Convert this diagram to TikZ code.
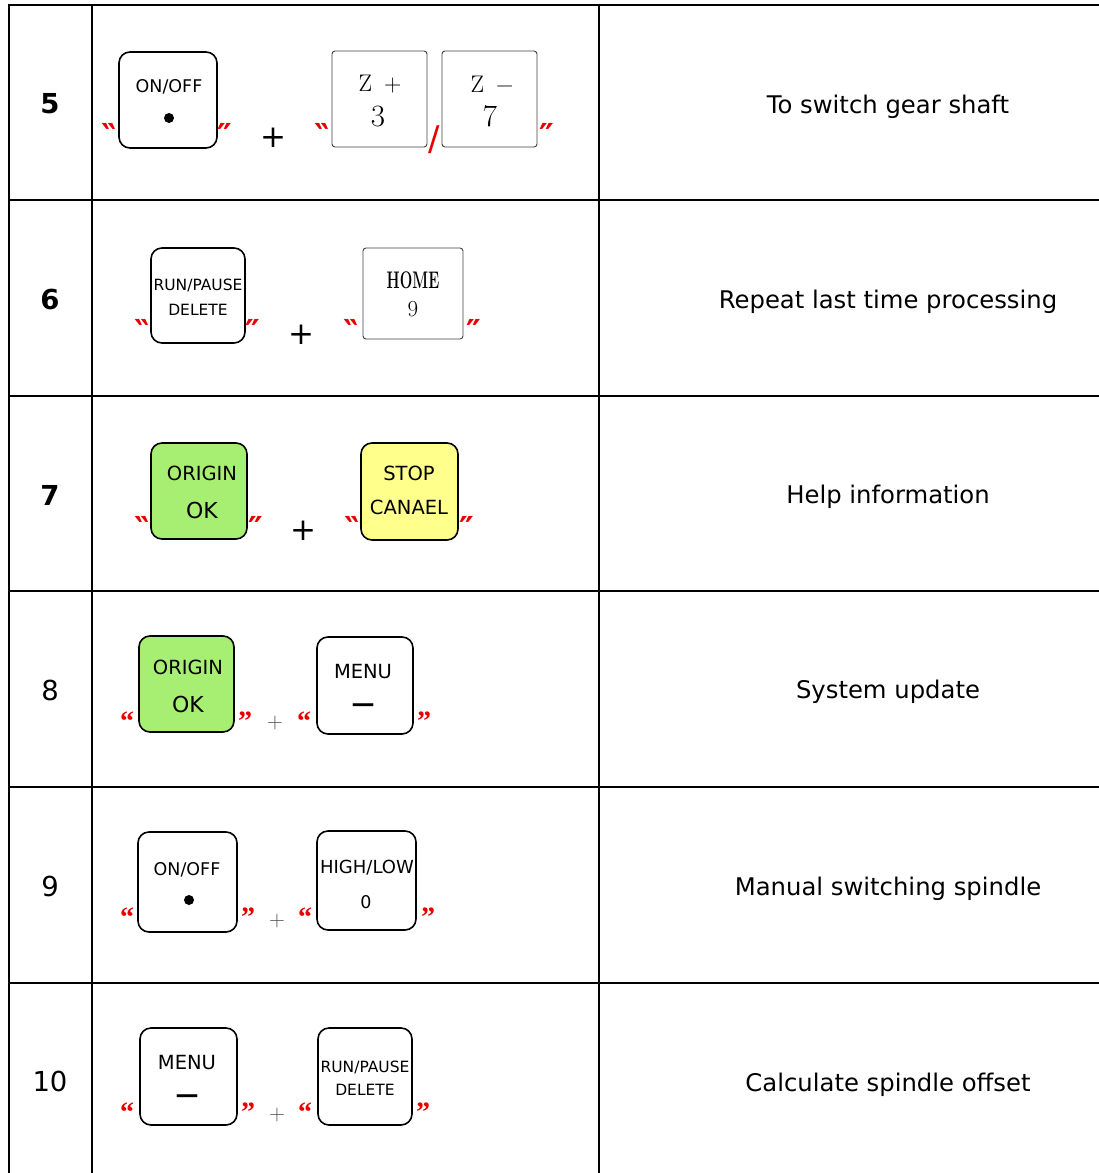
\documentclass[tikz,border=0pt]{standalone}
\usepackage{fontspec}
\setsansfont{DejaVu Sans}
\newfontfamily\quoteserif{Liberation Serif}
\definecolor{keygreen}{RGB}{166,239,114}
\definecolor{keyyellow}{RGB}{255,255,140}
\definecolor{quotered}{RGB}{230,0,0}
\tikzset{
  grid/.style={line width=2.4},
  keycap/.style={draw, line width=1.6, rounded corners=11, inner sep=0},
  flatcap/.style={draw=black!75, line width=0.9, rounded corners=3, inner sep=0},
  sans/.style={inner sep=0, font=\sffamily\fontsize{#1}{#1}\selectfont},
  serif/.style={inner sep=0, font=\rmfamily\fontsize{#1}{#1}\selectfont},
  squote/.style={inner sep=0, anchor=north, text=quotered, font=\sffamily\bfseries\fontsize{33}{33}\selectfont},
  cquote/.style={inner sep=0, anchor=north, text=quotered, font=\quoteserif\bfseries\fontsize{28}{28}\selectfont},
  boldplus/.style={inner sep=0, font=\sffamily\fontsize{31}{31}\selectfont},
  thinplus/.style={inner sep=0, text=black!70, font=\rmfamily\fontsize{22}{22}\selectfont},
  rownum/.style={inner sep=0, font=\sffamily\fontsize{27.5}{27.5}\selectfont},
  desc/.style={inner sep=0, font=\sffamily\fontsize{24.3}{24.3}\selectfont},
  dot/.style={circle, fill, inner sep=0, minimum size=10}
}
\begin{document}
\begin{tikzpicture}[x=1pt,y=-1pt]
    \useasboundingbox (0,0) rectangle (1099,1173);
    % table
    \coordinate (TL) at (9,5);
    \coordinate (TR) at (1099,5);
    \draw[grid] (TL) -- (TR);
    \foreach \y in {200,396,591,787,983}
        \draw[grid] (9,\y) -- (1099,\y);
    \foreach \x in {9,92,599}
        \draw[grid] (\x,4) -- (\x,1173);

    % row 5
    \node[rownum, font=\sffamily\bfseries\fontsize{27.5}{27.5}\selectfont] (n5) at (50,104) {5};
    \node[keycap, minimum width=98, minimum height=96] (k5a) at (168,100) {};
    \node[sans=17.5] (t5a) at (169,87) {ON/OFF};
    \node[dot] (d5a) at (169,118) {};
    \node[squote] (q5a) at (109,123) {‶};
    \node[squote] (q5b) at (225,123) {″};
    \node[boldplus] (p5) at (273,138) {+};
    \node[squote] (q5c) at (322,123) {‶};
    \node[flatcap, minimum width=95, minimum height=96] (k5b) at (379.5,99) {};
    \node[serif=24] (t5b) at (380,84) {Z\enspace+};
    \node[serif=31] (u5b) at (378,116) {3};
    \node[inner sep=0, anchor=base, text=quotered, font=\sffamily\fontsize{34}{34}\selectfont] (s5) at (434,150) {/};
    \node[flatcap, minimum width=95, minimum height=96] (k5c) at (489.5,99) {};
    \node[serif=24] (t5c) at (492,84) {Z\enspace−};
    \node[serif=31] (u5c) at (490,116) {7};
    \node[squote] (q5d) at (547,123) {″};
    \node[desc] (e5) at (888,107) {To switch gear shaft};

    % row 6
    \node[rownum, font=\sffamily\bfseries\fontsize{27.5}{27.5}\selectfont] (n6) at (50,299) {6};
    \node[keycap, minimum width=94, minimum height=95] (k6a) at (198,295.5) {};
    \node[sans=15.5] (t6a) at (198,285) {RUN/PAUSE};
    \node[sans=15.5] (u6a) at (198,310) {DELETE};
    \node[squote] (q6a) at (142,319) {‶};
    \node[squote] (q6b) at (253,319) {″};
    \node[boldplus] (p6) at (301,335) {+};
    \node[squote] (q6c) at (351,319) {‶};
    \node[flatcap, minimum width=100, minimum height=91] (k6b) at (413,293.5) {};
    \node[serif=24] (t6b) at (413,280) {\bfseries\scalebox{0.62}[1]{HOME}};
    \node[serif=23] (u6b) at (413,309) {9};
    \node[squote] (q6d) at (474,319) {″};
    \node[desc] (e6) at (888,302) {Repeat last time processing};

    % row 7
    \node[rownum, font=\sffamily\bfseries\fontsize{27.5}{27.5}\selectfont] (n7) at (50,495) {7};
    \node[keycap, fill=keygreen, minimum width=96, minimum height=96] (k7a) at (199,491) {};
    \node[sans=19.5] (t7a) at (202,473) {ORIGIN};
    \node[sans=22] (u7a) at (202,510) {OK};
    \node[squote] (q7a) at (142,516) {‶};
    \node[squote] (q7b) at (256,516) {″};
    \node[boldplus] (p7) at (303,531) {+};
    \node[squote] (q7c) at (352,516) {‶};
    \node[keycap, fill=keyyellow, minimum width=97, minimum height=97] (k7b) at (409.5,491.5) {};
    \node[sans=19.5] (t7b) at (409,473) {STOP};
    \node[sans=19.5] (u7b) at (409,507) {CANAEL};
    \node[squote] (q7d) at (467,516) {″};
    \node[desc] (e7) at (888,497) {Help information};

    % row 8
    \node[rownum] (n8) at (50,690) {8};
    \node[keycap, fill=keygreen, minimum width=95, minimum height=96] (k8a) at (186.5,684) {};
    \node[sans=19.5] (t8a) at (188,667) {ORIGIN};
    \node[sans=22] (u8a) at (188,704) {OK};
    \node[cquote] (q8a) at (127,712) {“};
    \node[cquote] (q8b) at (245,712) {”};
    \node[thinplus] (p8) at (275,723) {+};
    \node[cquote] (q8c) at (304,712) {“};
    \node[keycap, minimum width=96, minimum height=97] (k8b) at (365,685.5) {};
    \node[sans=19.5] (t8b) at (363,672) {MENU};
    \node[sans=23, anchor=north] (u8b) at (363,704) {\bfseries —};
    \node[cquote] (q8d) at (424,712) {”};
    \node[desc] (e8) at (888,692) {System update};

    % row 9
    \node[rownum] (n9) at (50,886) {9};
    \node[keycap, minimum width=99, minimum height=100] (k9a) at (187.5,882) {};
    \node[sans=17.5] (t9a) at (187,870) {ON/OFF};
    \node[dot] (d9a) at (189,900) {};
    \node[cquote] (q9a) at (127,908) {“};
    \node[cquote] (q9b) at (248,908) {”};
    \node[thinplus] (p9) at (277,921) {+};
    \node[cquote] (q9c) at (305,908) {“};
    \node[keycap, minimum width=99, minimum height=99] (k9b) at (366.5,880.5) {};
    \node[sans=18] (t9b) at (367,868) {HIGH/LOW};
    \node[sans=17.5] (u9b) at (366,902) {0};
    \node[cquote] (q9d) at (428,908) {”};
    \node[desc] (e9) at (888,889) {Manual switching spindle};

    % row 10
    \node[rownum] (n10) at (50,1081) {10};
    \node[keycap, minimum width=97, minimum height=97] (k10a) at (188.5,1076.5) {};
    \node[sans=19.5] (t10a) at (187,1063) {MENU};
    \node[sans=23, anchor=north] (u10a) at (187,1095) {\bfseries —};
    \node[cquote] (q10a) at (127,1103) {“};
    \node[cquote] (q10b) at (248,1103) {”};
    \node[thinplus] (p10) at (277,1115) {+};
    \node[cquote] (q10c) at (305,1103) {“};
    \node[keycap, minimum width=94, minimum height=97] (k10b) at (365,1076.5) {};
    \node[sans=15.5] (t10b) at (365,1067) {RUN/PAUSE};
    \node[sans=15.5] (u10b) at (365,1090) {DELETE};
    \node[cquote] (q10d) at (423,1103) {”};
    \node[desc] (e10) at (888,1085) {Calculate spindle offset};
\end{tikzpicture}
\end{document}
